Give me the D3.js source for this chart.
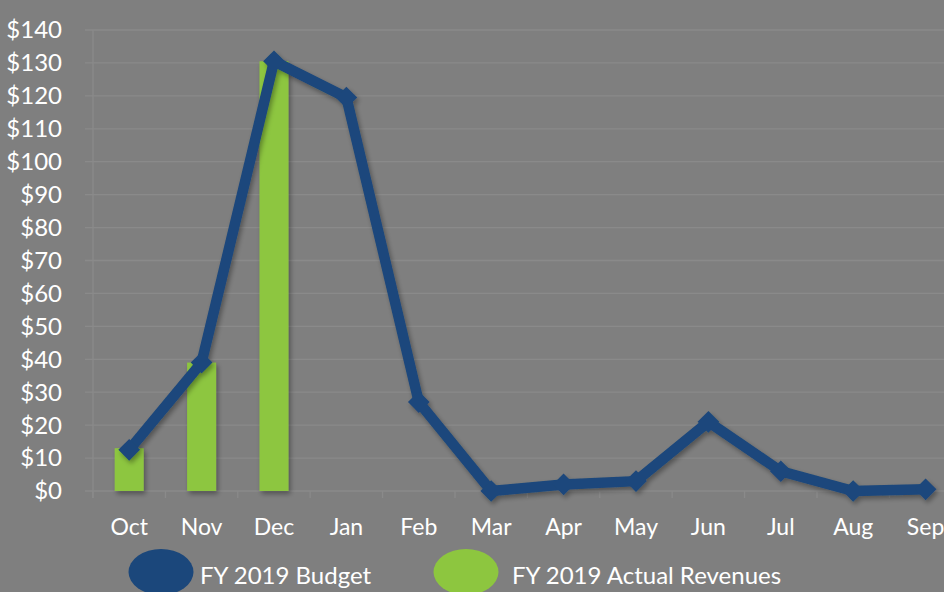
<!DOCTYPE html>
<html><head><meta charset="utf-8">
<script src="https://cdn.jsdelivr.net/npm/d3@7"></script>
<style>html,body{margin:0;padding:0;background:#7f7f7f;overflow:hidden}</style>
</head><body>
<svg id="c" width="944" height="592"></svg>
<script>
const months = ["Oct","Nov","Dec","Jan","Feb","Mar","Apr","May","Jun","Jul","Aug","Sep"];
const budget = [12.5,39,130.5,119.5,27,0,2,3,21,6,0,0.5];
const actualMonths = ["Oct","Nov","Dec"];
const actual = [13,39,130.5];
const yTicks = [0,10,20,30,40,50,60,70,80,90,100,110,120,130,140];
const seriesNames = ["FY 2019 Budget","FY 2019 Actual Revenues"];
const colors = ["#1b477b","#8dc63f"];

(function(){
const svg = d3.select("#c");
const font = "Lato, 'Open Sans', sans-serif";
svg.append("rect").attr("width",944).attr("height",592).attr("fill","#7f7f7f");
const pLeft = 93, pTop = 30, pBottom = 491;
const x = d3.scaleBand().domain(months).range([pLeft, pLeft + 12*72.4]);
const y = d3.scaleLinear().domain([0,140]).range([pBottom, pTop]);

const defs = svg.append("defs");
const f = defs.append("filter").attr("id","sh").attr("x","-20%").attr("y","-20%").attr("width","140%").attr("height","140%");
f.append("feDropShadow").attr("dx",2).attr("dy",3).attr("stdDeviation",2.5).attr("flood-color","#000").attr("flood-opacity",0.35);

// grid
svg.append("g").selectAll("line").data(yTicks).join("line")
  .attr("x1",85).attr("x2",944).attr("y1",d=>y(d)).attr("y2",d=>y(d))
  .attr("stroke","#8a8a8a").attr("stroke-width",1.3);
svg.append("line").attr("x1",pLeft).attr("x2",pLeft).attr("y1",pTop).attr("y2",pBottom+7).attr("stroke","#8a8a8a").attr("stroke-width",1.3);
svg.append("g").selectAll("line").data(months.map((m,i)=>pLeft+i*x.step()).concat([pLeft+12*x.step()])).join("line")
  .attr("x1",d=>d).attr("x2",d=>d).attr("y1",pBottom).attr("y2",pBottom+7).attr("stroke","#8a8a8a").attr("stroke-width",1.3);

// y labels
svg.append("g").selectAll("text").data(yTicks).join("text")
  .attr("x",62).attr("y",d=>y(d)).attr("dy","0.35em").attr("text-anchor","end")
  .attr("fill","#fff").attr("font-family",font).attr("font-size",24).text(d=>"$"+d);
// x labels
svg.append("g").selectAll("text").data(months).join("text")
  .attr("x",d=>x(d)+x.bandwidth()/2).attr("y",535).attr("text-anchor","middle")
  .attr("fill","#fff").attr("font-family",font).attr("font-size",23).text(d=>d);

// bars
const bw = 29;
svg.append("g").attr("filter","url(#sh)").selectAll("rect").data(actual).join("rect")
  .attr("x",(d,i)=>x(actualMonths[i])+x.bandwidth()/2-bw/2).attr("width",bw)
  .attr("y",d=>y(d)).attr("height",d=>pBottom-y(d)).attr("fill",colors[1]);

// line
const g = svg.append("g").attr("filter","url(#sh)");
g.append("path").datum(budget)
  .attr("d",d3.line().x((d,i)=>x(months[i])+x.bandwidth()/2).y(d=>y(d)))
  .attr("fill","none").attr("stroke",colors[0]).attr("stroke-width",10.5).attr("stroke-linejoin","round");
g.selectAll("path.m").data(budget).join("path").attr("class","m")
  .attr("transform",(d,i)=>`translate(${x(months[i])+x.bandwidth()/2},${y(d)})`)
  .attr("d",d3.symbol(d3.symbolDiamond2,300)).attr("fill",colors[0]);

// legend
const lg = svg.append("g");
[[161,200],[466,512]].forEach((p,i)=>{
  lg.append("ellipse").attr("cx",p[0]).attr("cy",572).attr("rx",32.5).attr("ry",23).attr("fill",colors[i]);
  lg.append("text").attr("x",p[1]).attr("y",584).attr("fill","#fff").attr("font-family",font).attr("font-size",24).text(seriesNames[i]);
});
})();
</script>
</body></html>
